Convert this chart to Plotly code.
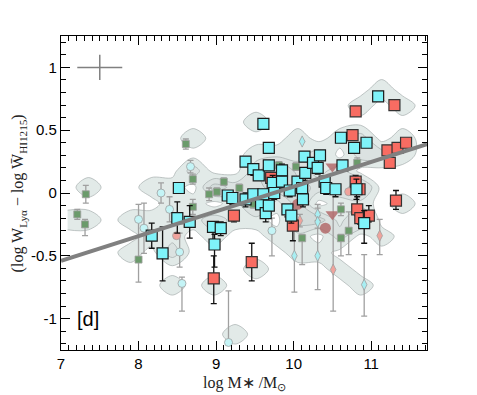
import plotly.graph_objects as go

# cyan squares
cyan_sq_x = [8.52, 8.50, 8.66, 8.17, 8.31, 9.38, 9.48, 9.55, 9.61, 9.68, 9.68, 9.85, 8.96, 9.06, 8.98,
             9.15, 9.21, 9.38, 9.48, 9.58, 9.61, 9.64, 9.73, 9.75, 9.68, 9.85, 9.92, 9.97, 9.95, 10.05,
             10.14, 10.15, 10.12, 10.11, 10.25, 10.31, 10.34, 10.40, 10.42, 10.54, 10.63, 10.61, 10.78,
             10.81, 10.94, 10.91, 11.09]
cyan_sq_y = [0.04, -0.20, -0.23, -0.34, -0.48, 0.25, 0.19, 0.14, 0.55, 0.36, 0.22, 0.18, -0.27, -0.28, -0.41,
             -0.02, -0.04, -0.05, -0.01, -0.09, -0.01, -0.16, 0.08, 0.00, -0.10, 0.09, -0.13, -0.18, 0.02, 0.09,
             0.29, 0.16, -0.05, 0.04, 0.24, 0.20, 0.30, 0.09, 0.04, 0.03, 0.22, 0.44, 0.36,
             0.03, 0.40, -0.24, 0.77]
cyan_sq_up = [0.03, 0.13, 0.13, 0.10, 0.21, 0.03, 0.03, 0.03, 0.03, 0.03, 0.03, 0.05, 0.03, 0.05, 0.08,
              0.03, 0.03, 0.05, 0.03, 0.03, 0.03, 0.05, 0.06, 0.03, 0.03, 0.03, 0.03, 0.03, 0.03, 0.03,
              0.03, 0.03, 0.03, 0.03, 0.03, 0.03, 0.03, 0.03, 0.03, 0.03, 0.03, 0.03, 0.03,
              0.08, 0.03, 0.10, 0.03]
cyan_sq_dn = [0.03, 0.12, 0.13, 0.10, 0.22, 0.03, 0.05, 0.03, 0.03, 0.03, 0.03, 0.05, 0.10, 0.06, 0.18,
              0.03, 0.05, 0.06, 0.03, 0.03, 0.03, 0.07, 0.06, 0.05, 0.06, 0.05, 0.06, 0.06, 0.05, 0.05,
              0.03, 0.06, 0.06, 0.05, 0.03, 0.05, 0.03, 0.05, 0.05, 0.06, 0.03, 0.03, 0.03,
              0.08, 0.03, 0.16, 0.03]

# red squares
red_sq_x = [10.80, 11.30, 10.76, 11.21, 11.34, 11.45, 11.24, 10.80, 10.85, 10.82, 10.86, 10.97, 11.32,
            9.23, 9.99, 9.46, 8.97, 9.71]
red_sq_y = [0.65, 0.70, 0.46, 0.34, 0.36, 0.40, 0.24, 0.09, 0.03, -0.13, -0.20, -0.18, -0.06,
            -0.18, -0.26, -0.55, -0.68, 0.12]
red_sq_up = [0.03, 0.03, 0.03, 0.03, 0.03, 0.03, 0.03, 0.05, 0.04, 0.10, 0.05, 0.08, 0.08,
             0.03, 0.03, 0.15, 0.18, 0.03]
red_sq_dn = [0.03, 0.03, 0.03, 0.03, 0.03, 0.03, 0.03, 0.05, 0.04, 0.05, 0.05, 0.05, 0.07,
             0.05, 0.12, 0.15, 0.20, 0.03]

# green small squares
grn_x = [7.32, 7.21, 7.31, 8.61, 8.70, 8.70, 8.00, 8.91, 9.01, 9.10, 9.30, 9.81, 10.03, 10.11,
         10.61, 10.61, 10.71, 10.82, 9.48]
grn_y = [-0.01, -0.17, -0.25, 0.39, 0.11, -0.11, -0.53, -0.01, 0.01, 0.09, 0.04, 0.22, 0.21, -0.36,
         -0.13, -0.36, -0.30, 0.24, -0.09]
grn_up = [0.07, 0.04, 0.04, 0.04, 0.04, 0.06, 0.02, 0.05, 0.03, 0.03, 0.03, 0.03, 0.03, 0.03,
          0.05, 0.03, 0.15, 0.04, 0.03]
grn_dn = [0.07, 0.04, 0.09, 0.04, 0.04, 0.06, 0.18, 0.05, 0.03, 0.03, 0.03, 0.03, 0.03, 0.21,
          0.05, 0.14, 0.19, 0.04, 0.03]

# light cyan circles
circ_x = [8.67, 8.29, 8.40, 8.00, 8.07, 8.53, 8.56, 9.72, 9.16]
circ_y = [0.21, 0.00, -0.13, -0.21, -0.28, -0.47, -0.72, -0.30, -1.19]
circ_up = [0.05, 0.08, 0.10, 0.12, 0.20, 0.15, 0.05, 0.10, 0.41]
circ_dn = [0.05, 0.08, 0.10, 0.32, 0.20, 0.12, 0.22, 0.20, 0.00]

# small cyan diamonds
cdia_x = [10.11, 10.01, 10.31, 10.31, 10.31, 10.91]
cdia_y = [0.41, -0.50, -0.50, -0.17, -0.23, -0.73]
cdia_up = [0.00, 0.34, 0.41, 0.05, 0.05, 0.24]
cdia_dn = [0.00, 0.29, 0.27, 0.05, 0.05, 0.25]

# pink diamonds and circles
pdia_x = [11.11, 10.51, 10.08]
pdia_y = [-0.34, -0.61, -0.22]
pdia_up = [0.13, 0.61, 0.05]
pdia_dn = [0.15, 0.33, 0.05]
pcirc_x = [8.49, 10.71]
pcirc_y = [-0.34, 0.01]

# dark red circle and triangles
dcirc_x = [10.41, 10.05]
dcirc_y = [-0.28, -0.09]
dtri_x = [10.50, 10.50]
dtri_y = [0.21, -0.17]

# fit line and typical error
fit_x = [7.0, 11.72]
fit_slope = 0.197
fit_icpt = -0.54
typ_x, typ_y = 7.5, 1.0
typ_ex, typ_ey = 0.29, 0.10

all_x = cyan_sq_x + red_sq_x + grn_x + circ_x + cdia_x + pdia_x + pcirc_x + dcirc_x + dtri_x
all_y = cyan_sq_y + red_sq_y + grn_y + circ_y + cdia_y + pdia_y + pcirc_y + dcirc_y + dtri_y

GRAY = "#a0a0a0"
fig = go.Figure()

fig.add_trace(go.Histogram2dContour(
    x=all_x, y=all_y,
    xbins=dict(start=6.95, end=11.9, size=0.27),
    ybins=dict(start=-1.32, end=1.0, size=0.13),
    contours=dict(coloring="fill", start=0.4, end=16, size=1, showlines=True),
    line=dict(color="#9aa3a3", width=0.6),
    colorscale=[[0, "#ffffff"], [0.03, "#e6eeec"], [0.2, "#d2d9d9"], [0.5, "#a9a8bb"], [1, "#77708f"]],
    zmin=0, showscale=False, hoverinfo="skip",
))


def pts(x, y, up, dn, symbol, size, color, lcol, lw, ecol):
    return go.Scatter(
        x=x, y=y, mode="markers",
        marker=dict(symbol=symbol, size=size, color=color, line=dict(color=lcol, width=lw)),
        error_y=dict(type="data", symmetric=False, array=up, arrayminus=dn,
                     color=ecol, thickness=1.3, width=3),
        showlegend=False,
    )


fig.add_trace(pts(cdia_x, cdia_y, cdia_up, cdia_dn, "diamond-tall", 8, "#a8eef2", GRAY, 0.8, GRAY))
fig.add_trace(pts(pdia_x, pdia_y, pdia_up, pdia_dn, "diamond-tall", 8, "#f0a39c", GRAY, 0.8, GRAY))
fig.add_trace(pts(circ_x, circ_y, circ_up, circ_dn, "circle", 8, "#c4f4f6", GRAY, 0.8, GRAY))
fig.add_trace(go.Scatter(x=pcirc_x, y=pcirc_y, mode="markers", showlegend=False,
                         marker=dict(size=8, color="#f0a39c", line=dict(color=GRAY, width=0.8))))
fig.add_trace(go.Scatter(x=dcirc_x, y=dcirc_y, mode="markers", showlegend=False,
                         marker=dict(size=11, color="#b36b6b", opacity=0.85)))
fig.add_trace(go.Scatter(x=dtri_x, y=dtri_y, mode="markers", showlegend=False,
                         marker=dict(symbol="triangle-down", size=12, color="#b36b6b", opacity=0.85)))
fig.add_trace(pts(grn_x, grn_y, grn_up, grn_dn, "square", 7, "#6b9b6b", GRAY, 0.8, GRAY))
fig.add_trace(pts(red_sq_x, red_sq_y, red_sq_up, red_sq_dn, "square", 11, "#f86c62", "#333333", 1.2, "#111111"))
fig.add_trace(pts(cyan_sq_x, cyan_sq_y, cyan_sq_up, cyan_sq_dn, "square", 11, "#7ff3f9", "#1a1a1a", 1.2, "#111111"))

fit_y = [fit_icpt + fit_slope * (v - 7.0) for v in fit_x]
fig.add_trace(go.Scatter(x=fit_x, y=fit_y, mode="lines", showlegend=False,
                         line=dict(color="#808080", width=4)))

fig.add_trace(go.Scatter(x=[typ_x], y=[typ_y], mode="markers", showlegend=False,
                         marker=dict(size=1, color="rgba(0,0,0,0)"),
                         error_x=dict(type="constant", value=typ_ex, color="#808080", thickness=1.5, width=0),
                         error_y=dict(type="constant", value=typ_ey, color="#808080", thickness=1.5, width=0)))

fig.add_annotation(x=7.35, y=-1.0, text="[d]", showarrow=False,
                   font=dict(family="Liberation Sans", size=20, color="black"))

# axis titles as annotations for exact placement
fig.add_annotation(xref="paper", yref="paper", x=0.5, y=-0.071, yanchor="top", showarrow=False,
                   text="log M∗ /M<sub>⊙</sub>",
                   font=dict(family="Liberation Serif", size=16, color="#222"))
fig.add_annotation(xref="paper", yref="paper", x=-0.085, y=0.5, xanchor="right", textangle=-90,
                   showarrow=False,
                   text="(log W<sub>Lyα</sub> − log W̄<sub>HI1215</sub>)",
                   font=dict(family="Liberation Serif", size=16, color="#222"))

axis_common = dict(showgrid=False, zeroline=False, showline=True, linecolor="black", linewidth=1.2,
                   mirror="allticks", ticks="inside", ticklen=9, tickcolor="black", tickwidth=1,
                   automargin=False,
                   tickfont=dict(family="Liberation Sans", size=15, color="black"))

fig.update_xaxes(range=[7, 11.72], tickvals=[7, 8, 9, 10, 11], ticktext=["7", "8", "9", "10", "11"],
                 minor=dict(dtick=0.1, ticklen=5, ticks="inside", tickcolor="black"),
                 **axis_common)
fig.update_yaxes(range=[-1.25, 1.25], tickvals=[-1, -0.5, 0, 0.5, 1], ticktext=["-1", "-0.5", "0", "0.5", "1"],
                 minor=dict(dtick=0.1, ticklen=5, ticks="inside", tickcolor="black"),
                 **axis_common)

# page has an 8px body margin, so the figure is shifted by 8px
fig.update_layout(width=469, height=387, margin=dict(l=53, r=50, t=28, b=45, autoexpand=False),
                  plot_bgcolor="white", paper_bgcolor="white", showlegend=False)

fig.write_html("out.html")
